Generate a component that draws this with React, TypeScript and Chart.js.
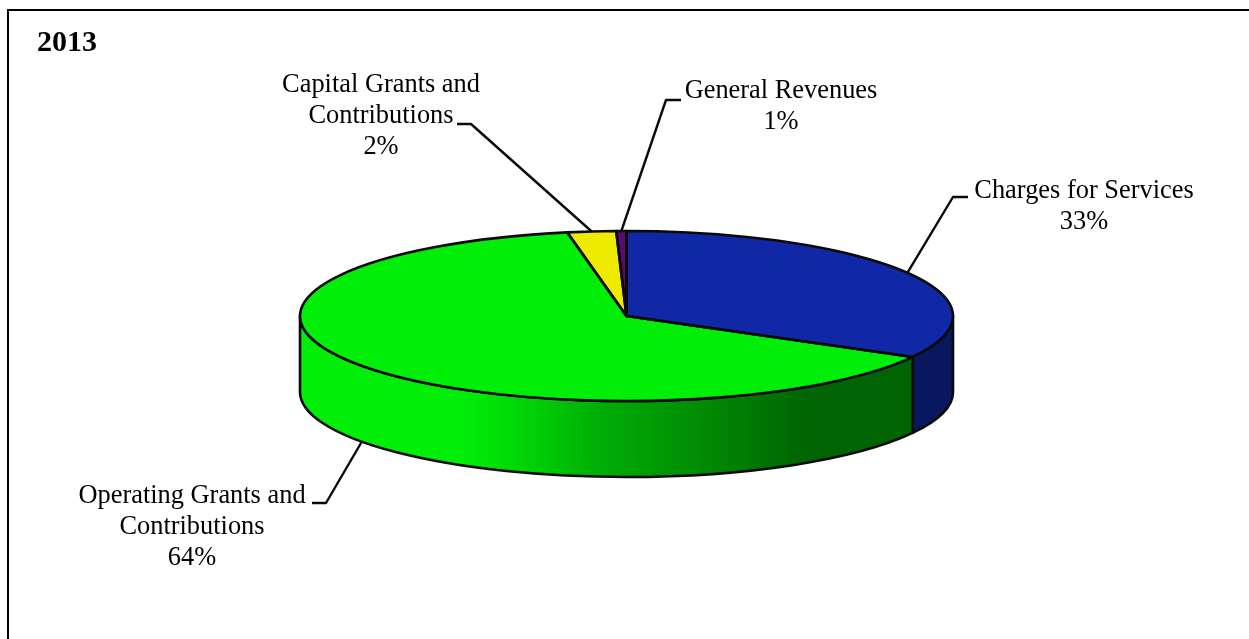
import React, { useEffect, useRef } from "react";
import { Chart, registerables } from "chart.js";

Chart.register(...registerables);

const categories = ["Charges for Services", "Operating Grants and Contributions", "Capital Grants and Contributions", "General Revenues"];
const shares = [33.0, 64.1, 2.4, 0.5];
const shownPercents = ["33%", "64%", "2%", "1%"];
const topColors = ["#1027a6", "#00ee08", "#eeea00", "#5b0a6e"];
const wallColors = ["#08175e", "#00ee08", "#eeea00", "#5b0a6e"];
const chartTitle = "2013";

const labelLines = [["Charges for Services"], ["Operating Grants and", "Contributions"], ["Capital Grants and", "Contributions"], ["General Revenues"]];
// Label placement: centre x, first line y, elbow point, end of the horizontal tail.
const labelLayout = [
  { x: 1084, y: 191, ex: 953, ey: 197, tx: 968 },
  { x: 192, y: 496, ex: 326, ey: 503, tx: 312 },
  { x: 381, y: 85, ex: 471, ey: 124, tx: 457 },
  { x: 781, y: 91, ex: 666, ey: 100, tx: 681 },
];
const RADIUS = 326.5;
const TILT = 85 / 326.5;
const DEPTH = 76;
const FONT = '"Liberation Serif", "Times New Roman", serif';

const pie3d = {
  id: "pie3d",
  beforeDatasetsDraw(chart: any) {
    const { ctx } = chart;
    const arcs = chart.getDatasetMeta(0).data;
    const { x: cx, y: cy, outerRadius: rx } = arcs[0];
    const ry = rx * TILT;
    ctx.save();
    ctx.lineWidth = 2.6;
    ctx.strokeStyle = "#0a0a0a";
    ctx.lineJoin = "round";
    arcs.forEach((arc: any, i: number) => {
      const a0 = Math.max(arc.startAngle, 0);
      const a1 = Math.min(arc.endAngle, Math.PI);
      if (a1 <= a0) return;
      ctx.beginPath();
      ctx.ellipse(cx, cy, rx, ry, 0, a0, a1);
      ctx.ellipse(cx, cy + DEPTH, rx, ry, 0, a1, a0, true);
      ctx.closePath();
      if (i === 1) {
        const g = ctx.createLinearGradient(cx - rx, 0, cx + rx, 0);
        g.addColorStop(0, "#00ee08");
        g.addColorStop(0.25, "#00ee08");
        g.addColorStop(0.33, "#00d806");
        g.addColorStop(0.45, "#00b005");
        g.addColorStop(0.6, "#008e04");
        g.addColorStop(0.78, "#006402");
        g.addColorStop(1, "#006402");
        ctx.fillStyle = g;
      } else {
        ctx.fillStyle = wallColors[i];
      }
      ctx.fill();
      ctx.stroke();
    });
    ctx.restore();
    // Tilt the library's arcs into the ellipse of the pie's top face.
    ctx.save();
    ctx.translate(cx, cy);
    ctx.scale(1, TILT);
    ctx.translate(-cx, -cy);
  },
  afterDatasetsDraw(chart: any) {
    const { ctx } = chart;
    ctx.restore();
    const arcs = chart.getDatasetMeta(0).data;
    const { x: cx, y: cy, outerRadius: rx } = arcs[0];
    const ry = rx * TILT;
    ctx.save();
    ctx.lineWidth = 2.6;
    ctx.strokeStyle = "#0a0a0a";
    ctx.lineJoin = "round";
    arcs.forEach((arc: any) => {
      ctx.beginPath();
      ctx.moveTo(cx, cy);
      ctx.ellipse(cx, cy, rx, ry, 0, arc.startAngle, arc.endAngle);
      ctx.closePath();
      ctx.stroke();
    });

    // Title
    ctx.fillStyle = "#000";
    ctx.textBaseline = "middle";
    ctx.textAlign = "left";
    ctx.font = `bold 30px ${FONT}`;
    ctx.fillText(chartTitle, 37, 43);

    // Labels and leader lines
    ctx.font = `26.4px ${FONT}`;
    ctx.textAlign = "center";
    ctx.lineWidth = 2.4;
    categories.forEach((_, i) => {
      const lay = labelLayout[i];
      const lines = [...labelLines[i], shownPercents[i]];
      lines.forEach((t, k) => ctx.fillText(t, lay.x, lay.y + k * 31));
      const mid = (arcs[i].startAngle + arcs[i].endAngle) / 2;
      const ax = cx + rx * Math.cos(mid);
      const ay = cy + ry * Math.sin(mid) + (Math.sin(mid) > 0 ? DEPTH : 0);
      ctx.beginPath();
      ctx.moveTo(ax, ay);
      ctx.lineTo(lay.ex, lay.ey);
      ctx.lineTo(lay.tx, lay.ey);
      ctx.stroke();
    });
    ctx.restore();
  },
};

export default function App() {
  const ref = useRef<HTMLCanvasElement>(null);
  useEffect(() => {
    document.body.style.margin = "0";
    const chart = new Chart(ref.current!, {
      type: "pie",
      data: {
        labels: categories,
        datasets: [
          {
            data: shares,
            backgroundColor: topColors,
            borderWidth: 0,
            radius: RADIUS,
            clip: false,
          } as any,
        ],
      },
      options: {
        responsive: false,
        animation: false,
        layout: { padding: { left: 4, bottom: 7 } },
        plugins: { legend: { display: false }, tooltip: { enabled: false }, title: { display: false } },
      },
      plugins: [pie3d],
    });
    return () => chart.destroy();
  }, []);
  return (
    <div style={{ position: "relative", width: 1249, height: 639, overflow: "hidden", background: "#fff" }}>
      <div style={{ position: "absolute", left: 7, top: 9, right: -4, bottom: -4, borderLeft: "2.5px solid #000", borderTop: "2px solid #000" }} />
      <canvas ref={ref} width={1249} height={639} style={{ position: "absolute", left: 0, top: 0, display: "block" }} />
    </div>
  );
}
